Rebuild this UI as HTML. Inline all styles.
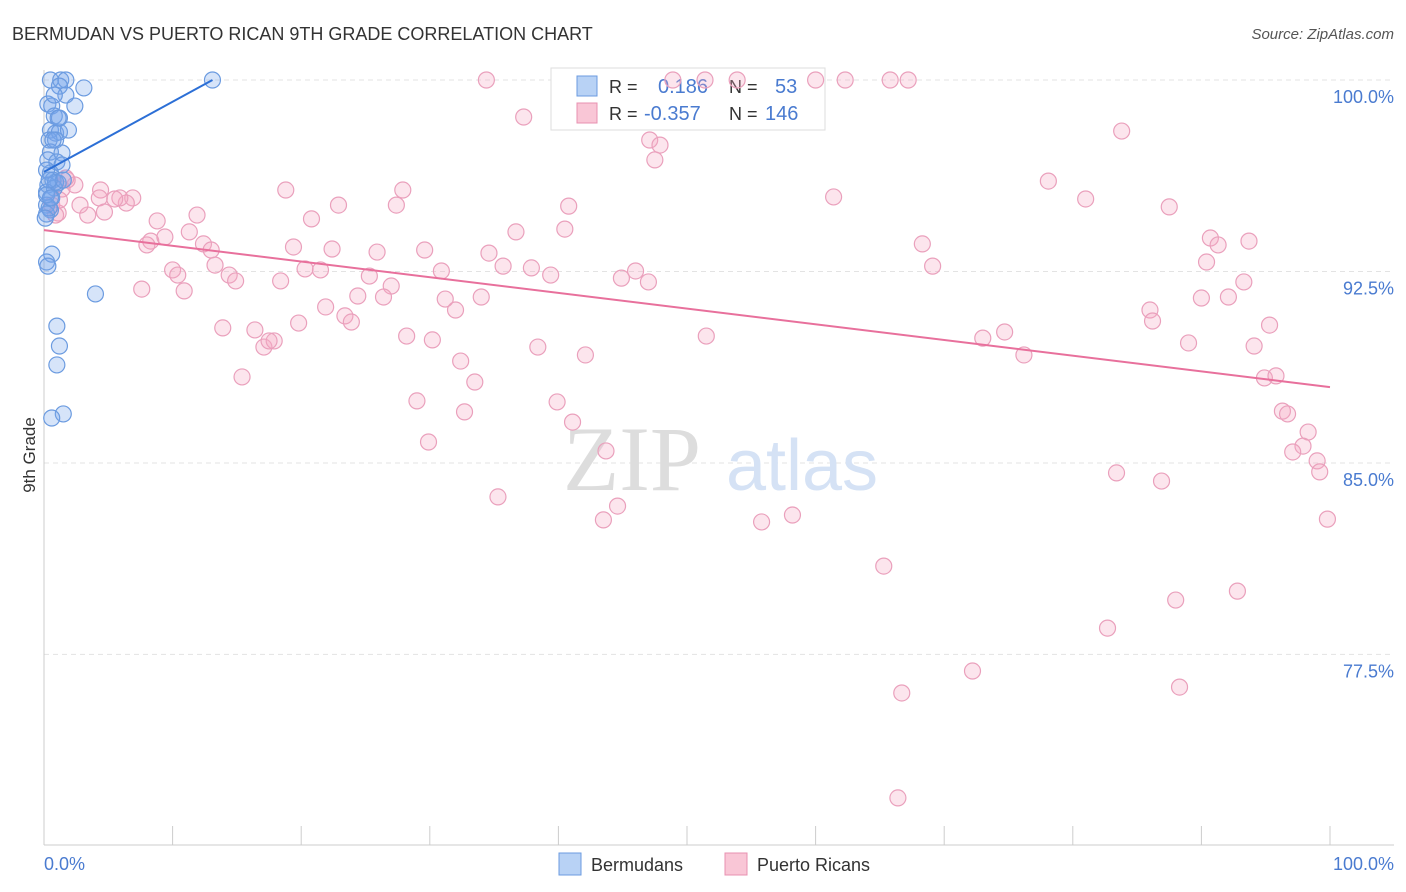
<!DOCTYPE html>
<html><head><meta charset="utf-8">
<style>
body{margin:0;background:#fff;font-family:"Liberation Sans",sans-serif;}
svg{display:block}
</style></head><body>
<svg id="c" width="1406" height="892">
<text x="12" y="40" font-size="18" fill="#333">BERMUDAN VS PUERTO RICAN 9TH GRADE CORRELATION CHART</text>
<text x="1394" y="39" font-size="15" fill="#555" font-style="italic" text-anchor="end">Source: ZipAtlas.com</text>
<g id="grid"></g>
<g><text x="632" y="490" font-size="92" fill="#ddd" font-family="Liberation Serif,serif" text-anchor="middle">ZIP</text><text x="802" y="490" font-size="72" fill="#d5e2f5" text-anchor="middle">atlas</text></g>
<g>
<rect x="551" y="68" width="274" height="62" fill="#fff" stroke="#ddd"/>
<rect x="577" y="76" width="20" height="20" fill="#b8d2f5" stroke="#6b9be0"/>
<rect x="577" y="103" width="20" height="20" fill="#f9c6d6" stroke="#e890b0"/>
<text x="609" y="93" font-size="18" fill="#333">R =</text><text x="658" y="93" font-size="20" fill="#4a7bd0">0.186</text>
<text x="729" y="93" font-size="18" fill="#333">N =</text><text x="775" y="93" font-size="20" fill="#4a7bd0">53</text>
<text x="609" y="120" font-size="18" fill="#333">R =</text><text x="644" y="120" font-size="20" fill="#4a7bd0">-0.357</text>
<text x="729" y="120" font-size="18" fill="#333">N =</text><text x="765" y="120" font-size="20" fill="#4a7bd0">146</text>
</g>
<g id="pts"></g>
<g id="lines"></g>
<text x="35" y="455" font-size="17" fill="#333" text-anchor="middle" transform="rotate(-90 35 455)">9th Grade</text>
<text x="44" y="870" font-size="18" fill="#4a7bd0">0.0%</text>
<text x="1394" y="870" font-size="18" fill="#4a7bd0" text-anchor="end">100.0%</text>
<g>
<rect x="559" y="853" width="22" height="22" fill="#b8d2f5" stroke="#6b9be0"/>
<text x="591" y="871" font-size="18" fill="#333">Bermudans</text>
<rect x="725" y="853" width="22" height="22" fill="#f9c6d6" stroke="#e890b0"/>
<text x="757" y="871" font-size="18" fill="#333">Puerto Ricans</text>
</g>
</svg>
<script>
const yTicks=[100,92.5,85,77.5];
const yTickLabels=["100.0%","92.5%","85.0%","77.5%"];
const xTicks=[0,10,20,30,40,50,60,70,80,90,100];
const pinkX=[34.4,37.3,48.9,47.1,47.9,47.5,51.4,53.9,60.0,62.3,65.8,67.2,83.8,78.1,81.0,61.4,87.5,90.7,91.3,93.7,68.3,69.1,90.4,93.3,90.0,92.1,86.0,86.2,95.3,89.0,94.1,73.0,74.7,76.2,51.5,94.9,95.8,96.3,96.7,98.3,97.9,97.1,99.0,99.2,83.4,86.9,99.8,65.3,88.0,92.8,82.7,72.2,66.7,88.3,66.4,55.8,58.2,43.5,44.6,43.7,35.3,39.9,41.1,42.1,38.4,32.7,29.9,29.0,33.5,32.4,28.2,30.2,32.0,31.2,34.0,30.9,35.7,34.6,37.9,39.4,36.7,40.5,40.8,44.9,46.0,47.0,29.6,25.9,27.9,27.4,22.9,20.8,19.4,22.4,20.3,21.5,18.4,25.3,27.0,24.4,26.4,21.9,23.4,23.9,19.8,16.4,17.1,17.9,17.5,13.9,15.4,18.8,11.9,11.3,8.8,8.3,8.0,9.4,12.4,13.0,13.3,10.0,10.4,10.9,7.6,14.4,14.9,4.4,4.3,6.9,6.4,5.9,4.7,3.4,2.4,2.8,1.4,1.1,0.6,1.2,1.8,0.9,1.7,5.5];
const pinkY=[100,98.55,100,97.65,97.45,96.87,100,100,100,100,100,100,98.0,96.04,95.34,95.42,95.03,93.81,93.54,93.69,93.58,92.71,92.87,92.09,91.46,91.5,90.99,90.56,90.4,89.7,89.58,89.89,90.13,89.23,89.97,88.33,88.41,87.03,86.92,86.21,85.66,85.43,85.08,84.65,84.61,84.29,82.8,80.96,79.63,79.98,78.53,76.85,75.99,76.22,71.88,82.69,82.96,82.77,83.31,85.47,83.67,87.39,86.6,89.23,89.54,87.0,85.82,87.43,88.17,88.99,89.97,89.82,90.99,91.42,91.5,92.52,92.71,93.22,92.64,92.36,94.05,94.16,95.06,92.24,92.52,92.09,93.34,93.26,95.69,95.1,95.1,94.56,93.46,93.38,92.6,92.56,92.13,92.32,91.93,91.54,91.5,91.11,90.76,90.52,90.48,90.21,89.54,89.78,89.78,90.29,88.37,95.69,94.71,94.05,94.48,93.69,93.54,93.85,93.58,93.34,92.75,92.56,92.36,91.74,91.81,92.36,92.13,95.69,95.38,95.38,95.18,95.38,94.83,94.71,95.89,95.1,95.73,94.79,95.1,95.3,96.08,94.71,96.16,95.34];
const blueX=[0.5,1.3,1.7,1.2,3.1,1.7,0.3,0.6,2.4,0.8,1.2,0.5,0.9,1.2,1.9,0.4,0.9,0.5,1.4,0.3,1.0,1.4,0.5,0.7,1.1,0.3,0.8,0.2,0.6,0.2,0.5,0.2,0.4,0.9,1.5,0.6,0.2,0.3,4.0,1.0,1.2,1.0,1.5,0.6,13.1,0.2,0.2,0.5,0.4,0.7,0.1,0.8,1.1];
const blueY=[100,100,100,99.76,99.69,99.41,99.06,98.98,98.98,98.59,98.51,98.04,97.92,97.96,98.04,97.65,97.65,97.18,97.14,96.87,96.79,96.67,96.36,96.08,95.97,95.89,95.77,95.61,95.38,95.1,94.91,94.75,94.99,96.0,96.08,93.18,92.87,92.71,91.62,90.36,89.58,88.84,86.92,86.76,100,96.47,95.5,95.38,96.08,97.65,94.59,99.41,98.51];
const blueTrend=[[0,96.4],[13.1,100]];
const pinkTrend=[[0,94.12],[100,87.97]];
const X=v=>44+v*12.86, Y=v=>80+(100-v)*25.53;
const NS="http://www.w3.org/2000/svg";
function mk(t,a,p){const e=document.createElementNS(NS,t);for(const k in a)e.setAttribute(k,a[k]);p.appendChild(e);return e;}
const grid=document.getElementById('grid');
yTicks.forEach((t,i)=>{
 const l=mk('line',{x1:44,x2:1394,y1:Y(t),y2:Y(t),stroke:'#e3e3e3','stroke-dasharray':'5,4'},grid);
 
 
 const tx=mk('text',{x:1394,y:Y(t)+23,'font-size':18,fill:'#4a7bd0','text-anchor':'end'},grid);
 tx.textContent=yTickLabels[i];
 
 
});
const ax=mk('line',{x1:44,x2:1394,y1:845,y2:845,stroke:'#ccc'},grid);


const ay=mk('line',{x1:44,x2:44,y1:70,y2:845,stroke:'#ccc'},grid);


xTicks.forEach(t=>{
 const l=mk('line',{x1:X(t),x2:X(t),y1:826,y2:845,stroke:'#ccc'},grid);
 
 
});
const pts=document.getElementById('pts');
pinkX.forEach((x,i)=>{
 const c=mk('circle',{cx:X(x),cy:Y(pinkY[i]),r:8,fill:'rgba(245,170,195,0.3)',stroke:'#eaa0bc','stroke-width':1.2},pts);
 
 
});
blueX.forEach((x,i)=>{
 const c=mk('circle',{cx:X(x),cy:Y(blueY[i]),r:8,fill:'rgba(120,165,235,0.3)',stroke:'#6b9be0','stroke-width':1.2},pts);
 
 
});
const lines=document.getElementById('lines');
const bl=mk('line',{x1:X(blueTrend[0][0]),y1:Y(blueTrend[0][1]),x2:X(blueTrend[1][0]),y2:Y(blueTrend[1][1]),stroke:'#2c6fd6','stroke-width':2},lines);


const pl=mk('line',{x1:X(pinkTrend[0][0]),y1:Y(pinkTrend[0][1]),x2:X(pinkTrend[1][0]),y2:Y(pinkTrend[1][1]),stroke:'#e8709c','stroke-width':2},lines);


</script>
</body></html>
